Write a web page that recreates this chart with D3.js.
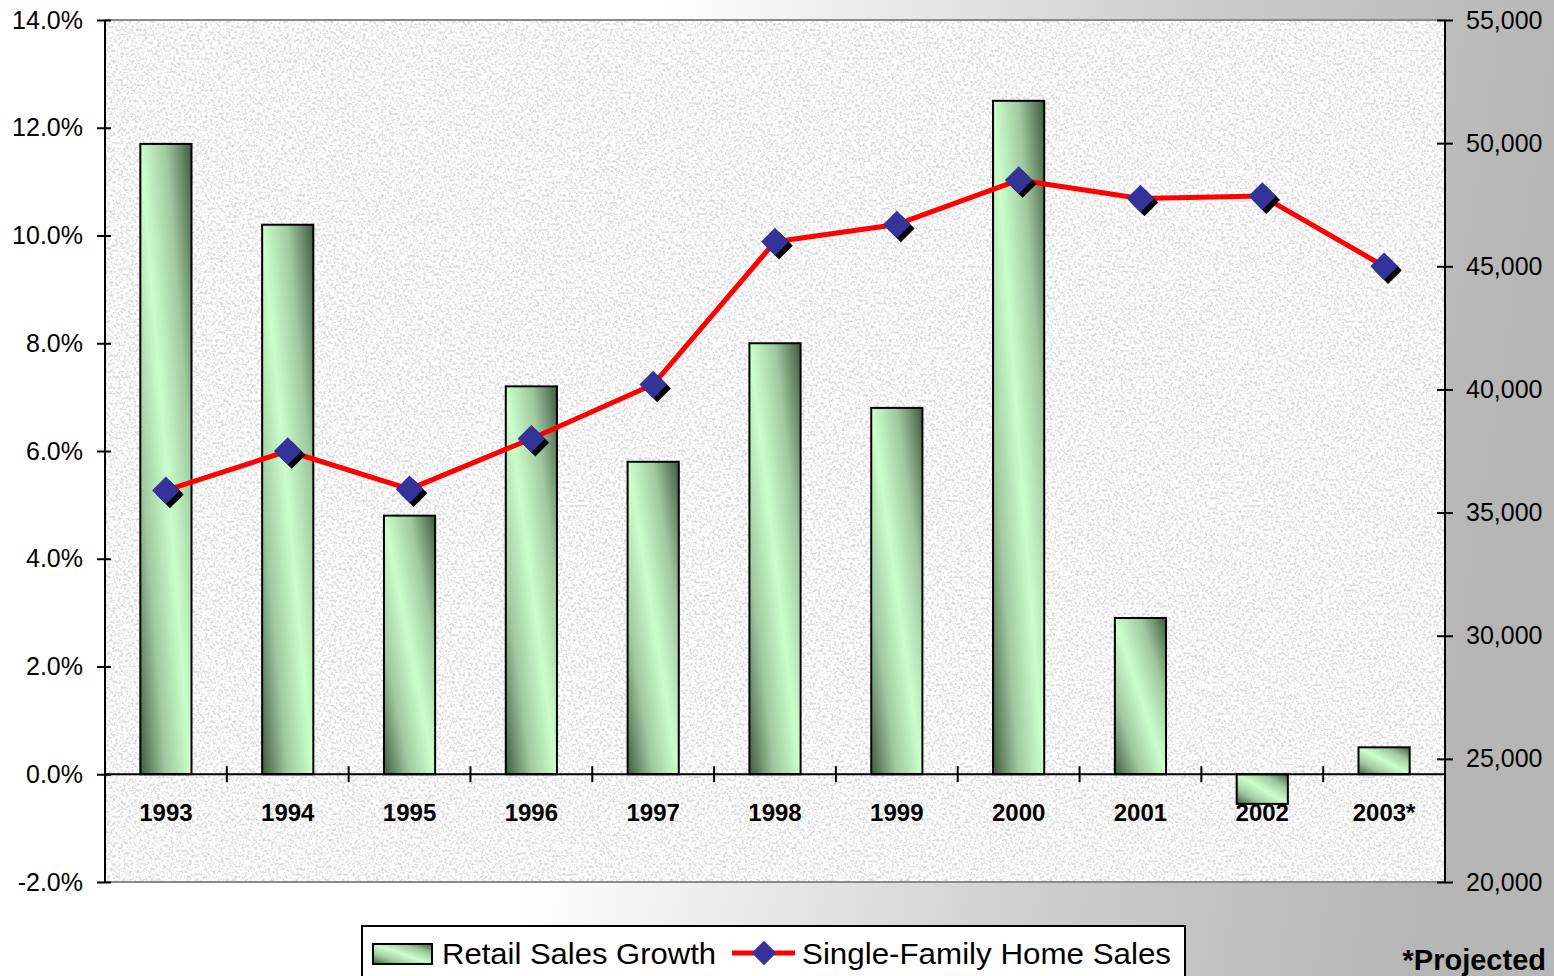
<!DOCTYPE html>
<html>
<head>
<meta charset="utf-8">
<script src="https://cdn.jsdelivr.net/npm/d3@7"></script>
<style>
  html, body { margin: 0; padding: 0; }
  body { width: 1554px; height: 976px; overflow: hidden; }
  svg text { font-family: "Liberation Sans", Arial, sans-serif; }
</style>
</head>
<body>
<svg id="chart" width="1554" height="976"></svg>
<script>
// chart data
var years = ["1993", "1994", "1995", "1996", "1997", "1998", "1999", "2000", "2001", "2002", "2003*"];
var retailGrowth = [11.7, 10.2, 4.8, 7.2, 5.8, 8.0, 6.8, 12.5, 2.9, -0.55, 0.5];
var homeSales = [35900, 37500, 35950, 38000, 40200, 46000, 46700, 48500, 47750, 47850, 45000];
var leftTicks = [-2, 0, 2, 4, 6, 8, 10, 12, 14];
var rightTicks = [20000, 25000, 30000, 35000, 40000, 45000, 50000, 55000];
var seriesNames = ["Retail Sales Growth", "Single-Family Home Sales"];
var footnote = "*Projected";

var svg = d3.select("#chart");
var W = 1554, H = 976;
var plot = { left: 105, right: 1445, top: 20, bottom: 882 };

var defs = svg.append("defs");

// page backdrop: white on the left fading to grey on the right
var bg = defs.append("linearGradient").attr("id", "pageBg")
    .attr("x1", 0).attr("y1", 0).attr("x2", 1).attr("y2", 0.1);
bg.append("stop").attr("offset", "0%").attr("stop-color", "#ffffff");
bg.append("stop").attr("offset", "42%").attr("stop-color", "#ffffff");
bg.append("stop").attr("offset", "76%").attr("stop-color", "#cdcdcd");
bg.append("stop").attr("offset", "100%").attr("stop-color", "#b6b6b6");

// speckled texture for the plot area
var tex = defs.append("filter").attr("id", "speckle")
    .attr("filterUnits", "userSpaceOnUse")
    .attr("x", plot.left).attr("y", plot.top)
    .attr("width", plot.right - plot.left).attr("height", plot.bottom - plot.top);
tex.append("feTurbulence").attr("type", "fractalNoise")
    .attr("baseFrequency", 0.38).attr("numOctaves", 3).attr("seed", 7).attr("result", "noise");
tex.append("feColorMatrix").attr("in", "noise").attr("type", "matrix")
    .attr("values", "0 0 0 0 1  0 0 0 0 1  0 0 0 0 1  3.4 0 0 0 -0.95");

// bar fill: dark corners, light diagonal band
var barGrad = defs.append("linearGradient").attr("id", "barFill")
    .attr("x1", 0).attr("y1", 1).attr("x2", 1).attr("y2", 0);
barGrad.append("stop").attr("offset", "0%").attr("stop-color", "#3f5a3f");
barGrad.append("stop").attr("offset", "25%").attr("stop-color", "#9fc89f");
barGrad.append("stop").attr("offset", "50%").attr("stop-color", "#ccffcc");
barGrad.append("stop").attr("offset", "75%").attr("stop-color", "#9fc89f");
barGrad.append("stop").attr("offset", "100%").attr("stop-color", "#3f5a3f");

svg.append("rect").attr("width", W).attr("height", H).attr("fill", "url(#pageBg)");

// plot area
svg.append("rect")
    .attr("x", plot.left).attr("y", plot.top)
    .attr("width", plot.right - plot.left).attr("height", plot.bottom - plot.top)
    .attr("fill", "#dadada");
svg.append("rect")
    .attr("x", plot.left).attr("y", plot.top)
    .attr("width", plot.right - plot.left).attr("height", plot.bottom - plot.top)
    .attr("fill", "#fff")
    .attr("filter", "url(#speckle)");
svg.append("line").attr("x1", plot.left).attr("x2", plot.right)
    .attr("y1", plot.top).attr("y2", plot.top).attr("stroke", "#8a8a8a").attr("stroke-width", 2);
svg.append("line").attr("x1", plot.left).attr("x2", plot.right)
    .attr("y1", plot.bottom).attr("y2", plot.bottom).attr("stroke", "#8a8a8a").attr("stroke-width", 2);

// scales
var x = d3.scaleBand().domain(years).range([plot.left, plot.right]);
var yL = d3.scaleLinear().domain([-2, 14]).range([plot.bottom, plot.top]);
var yR = d3.scaleLinear().domain([20000, 55000]).range([plot.bottom, plot.top]);
var barW = x.bandwidth() * 0.42;

// bars
svg.append("g").selectAll("rect")
    .data(retailGrowth)
    .enter()
    .append("rect")
    .attr("x", function (d, i) { return x(years[i]) + (x.bandwidth() - barW) / 2; })
    .attr("y", function (d) { return yL(Math.max(d, 0)); })
    .attr("width", barW)
    .attr("height", function (d) { return Math.abs(yL(d) - yL(0)); })
    .attr("fill", "url(#barFill)")
    .attr("stroke", "#000")
    .attr("stroke-width", 2);

// left axis
var gL = svg.append("g")
    .attr("transform", "translate(" + plot.left + ",0)")
    .call(d3.axisLeft(yL).tickValues(leftTicks).tickSize(8).tickPadding(14)
        .tickFormat(function (d) { return d.toFixed(1) + "%"; }));
gL.select(".domain").remove();
gL.selectAll(".tick line").attr("x1", 6).attr("stroke", "#000").attr("stroke-width", 2);
gL.selectAll(".tick text").attr("font-size", 25).attr("fill", "#000")
    .style("font-family", "'Liberation Sans', Arial, sans-serif");
svg.append("line").attr("x1", plot.left).attr("x2", plot.left)
    .attr("y1", plot.top).attr("y2", plot.bottom).attr("stroke", "#000").attr("stroke-width", 2);

// right axis
var gR = svg.append("g")
    .attr("transform", "translate(" + plot.right + ",0)")
    .call(d3.axisRight(yR).tickValues(rightTicks).tickSize(8).tickPadding(13)
        .tickFormat(d3.format(",")));
gR.select(".domain").remove();
gR.selectAll(".tick line").attr("x1", -8).attr("stroke", "#000").attr("stroke-width", 2);
gR.selectAll(".tick text").attr("font-size", 25).attr("fill", "#000")
    .style("font-family", "'Liberation Sans', Arial, sans-serif");
svg.append("line").attr("x1", plot.right).attr("x2", plot.right)
    .attr("y1", plot.top).attr("y2", plot.bottom).attr("stroke", "#000").attr("stroke-width", 2);

// category axis along zero
var y0 = yL(0);
svg.append("line").attr("x1", plot.left).attr("x2", plot.right)
    .attr("y1", y0).attr("y2", y0).attr("stroke", "#000").attr("stroke-width", 2);
svg.append("g").selectAll("line")
    .data(years.slice(1))
    .enter()
    .append("line")
    .attr("x1", function (d) { return x(d); })
    .attr("x2", function (d) { return x(d); })
    .attr("y1", y0 - 8).attr("y2", y0 + 8)
    .attr("stroke", "#000").attr("stroke-width", 2);
svg.append("g").selectAll("text")
    .data(years)
    .enter()
    .append("text")
    .attr("x", function (d) { return x(d) + x.bandwidth() / 2; })
    .attr("y", y0 + 47)
    .attr("text-anchor", "middle")
    .attr("font-size", 24)
    .attr("font-weight", "bold")
    .attr("fill", "#000")
    .text(function (d) { return d; });

// home sales line
var line = d3.line()
    .x(function (d, i) { return x(years[i]) + x.bandwidth() / 2; })
    .y(function (d) { return yR(d); });
svg.append("path")
    .datum(homeSales)
    .attr("d", line)
    .attr("fill", "none")
    .attr("stroke", "#ff0000")
    .attr("stroke-width", 5)
    .attr("stroke-linejoin", "round");

var diamond = d3.symbol().type(d3.symbolSquare).size(380);
function drawMarker(g, cx, cy) {
    g.append("path").attr("d", diamond())
        .attr("transform", "translate(" + (cx + 4) + "," + (cy + 4) + ") rotate(45)")
        .attr("fill", "#000");
    g.append("path").attr("d", diamond())
        .attr("transform", "translate(" + cx + "," + cy + ") rotate(45)")
        .attr("fill", "#333399");
}
var markers = svg.append("g");
homeSales.forEach(function (d, i) {
    drawMarker(markers, x(years[i]) + x.bandwidth() / 2, yR(d));
});

// legend
var lg = svg.append("g");
lg.append("rect").attr("x", 362).attr("y", 926).attr("width", 823).attr("height", 70)
    .attr("fill", "#fff").attr("stroke", "#000").attr("stroke-width", 2);
lg.append("rect").attr("x", 373).attr("y", 944).attr("width", 59).attr("height", 20)
    .attr("fill", "url(#barFill)").attr("stroke", "#000").attr("stroke-width", 2);
lg.append("text").attr("x", 442).attr("y", 964).attr("font-size", 29)
    .attr("textLength", 274).attr("lengthAdjust", "spacingAndGlyphs")
    .text(seriesNames[0]);
lg.append("line").attr("x1", 732).attr("x2", 795).attr("y1", 953).attr("y2", 953)
    .attr("stroke", "#ff0000").attr("stroke-width", 5);
lg.append("path").attr("d", d3.symbol().type(d3.symbolSquare).size(300)())
    .attr("transform", "translate(764,953) rotate(45)").attr("fill", "#333399");
lg.append("text").attr("x", 802).attr("y", 964).attr("font-size", 29)
    .attr("textLength", 369).attr("lengthAdjust", "spacingAndGlyphs")
    .text(seriesNames[1]);

// footnote
svg.append("text").attr("x", 1546).attr("y", 970)
    .attr("text-anchor", "end").attr("font-size", 29).attr("font-weight", "bold")
    .attr("fill", "#000").text(footnote);
</script>
</body>
</html>
